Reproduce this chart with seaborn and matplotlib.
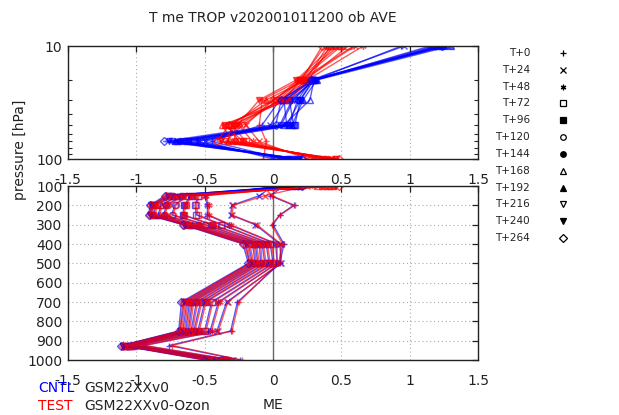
import numpy as np
import pandas as pd
import matplotlib
matplotlib.use("Agg")
import matplotlib.pyplot as plt
from matplotlib.ticker import FixedLocator, NullFormatter, FixedFormatter
import seaborn as sns

sns.set_style("white")
plt.rcParams['font.family'] = ['DejaVu Sans']

levels = [10, 20, 30, 50, 70, 100, 150, 200, 250, 300, 400, 500, 700, 850, 925, 1000]
leads = ["T+0", "T+24", "T+48", "T+72", "T+96", "T+120", "T+144", "T+168",
         "T+192", "T+216", "T+240", "T+264"]

cntl_me = [
    [0.94, 0.30, 0.05, -0.08, -0.45, 0.08, -0.02, 0.15, 0.05, 0.00, 0.08, 0.05, -0.26, -0.31, -0.76, -0.24],
    [0.96, 0.28, 0.10, -0.02, -0.50, 0.00, -0.10, -0.30, -0.31, -0.13, 0.05, 0.06, -0.34, -0.41, -0.95, -0.30],
    [1.15, 0.30, 0.14, 0.05, -0.55, 0.05, -0.50, -0.48, -0.48, -0.32, 0.02, 0.03, -0.40, -0.46, -1.00, -0.34],
    [1.18, 0.29, 0.20, 0.16, -0.58, 0.10, -0.55, -0.57, -0.56, -0.38, -0.02, 0.00, -0.45, -0.50, -1.03, -0.35],
    [1.20, 0.31, 0.12, 0.15, -0.62, 0.12, -0.60, -0.65, -0.66, -0.45, -0.05, -0.03, -0.50, -0.55, -1.05, -0.36],
    [1.22, 0.30, 0.08, 0.10, -0.65, 0.15, -0.64, -0.72, -0.74, -0.50, -0.08, -0.06, -0.53, -0.58, -1.06, -0.37],
    [1.24, 0.28, 0.18, 0.12, -0.68, 0.18, -0.67, -0.78, -0.80, -0.55, -0.10, -0.09, -0.56, -0.60, -1.07, -0.38],
    [1.25, 0.30, 0.27, 0.08, -0.70, 0.16, -0.70, -0.82, -0.84, -0.59, -0.13, -0.11, -0.59, -0.62, -1.08, -0.40],
    [1.30, 0.32, 0.22, 0.14, -0.72, 0.20, -0.73, -0.86, -0.87, -0.62, -0.15, -0.13, -0.61, -0.64, -1.09, -0.42],
    [1.27, 0.29, 0.15, 0.06, -0.74, 0.14, -0.75, -0.88, -0.89, -0.64, -0.18, -0.15, -0.63, -0.66, -1.10, -0.45],
    [1.26, 0.30, 0.20, 0.10, -0.76, 0.19, -0.77, -0.89, -0.90, -0.65, -0.20, -0.17, -0.65, -0.68, -1.10, -0.48],
    [1.24, 0.28, 0.06, 0.02, -0.80, 0.21, -0.79, -0.90, -0.91, -0.66, -0.22, -0.18, -0.67, -0.69, -1.11, -0.50],
]

test_me = [
    [0.59, 0.20, -0.08, -0.10, -0.05, -0.07, -0.01, 0.16, 0.05, -0.01, 0.07, 0.04, -0.25, -0.30, -0.74, -0.23],
    [0.60, 0.22, 0.00, -0.20, -0.10, 0.25, -0.06, -0.29, -0.30, -0.12, 0.06, 0.05, -0.33, -0.40, -0.94, -0.29],
    [0.66, 0.25, 0.05, -0.25, -0.15, 0.30, -0.49, -0.47, -0.47, -0.31, 0.03, 0.03, -0.39, -0.45, -0.99, -0.33],
    [0.55, 0.24, 0.10, -0.30, -0.20, 0.33, -0.54, -0.56, -0.55, -0.37, -0.01, 0.01, -0.44, -0.49, -1.02, -0.34],
    [0.50, 0.20, 0.08, -0.35, -0.22, 0.36, -0.59, -0.64, -0.65, -0.44, -0.04, -0.02, -0.49, -0.54, -1.04, -0.35],
    [0.48, 0.18, 0.02, -0.33, -0.25, 0.38, -0.63, -0.71, -0.73, -0.49, -0.07, -0.05, -0.52, -0.57, -1.05, -0.36],
    [0.45, 0.22, 0.06, -0.28, -0.28, 0.40, -0.66, -0.77, -0.79, -0.54, -0.09, -0.08, -0.55, -0.59, -1.06, -0.37],
    [0.42, 0.26, 0.12, -0.37, -0.30, 0.42, -0.69, -0.81, -0.83, -0.58, -0.12, -0.10, -0.58, -0.61, -1.07, -0.39],
    [0.40, 0.24, -0.05, -0.30, -0.33, 0.44, -0.72, -0.85, -0.86, -0.61, -0.14, -0.12, -0.60, -0.63, -1.08, -0.41],
    [0.38, 0.20, 0.04, -0.22, -0.35, 0.46, -0.74, -0.87, -0.88, -0.63, -0.17, -0.14, -0.62, -0.65, -1.09, -0.44],
    [0.44, 0.17, -0.10, -0.26, -0.38, 0.45, -0.76, -0.88, -0.89, -0.64, -0.19, -0.16, -0.64, -0.67, -1.09, -0.47],
    [0.36, 0.21, 0.00, -0.32, -0.41, 0.48, -0.78, -0.89, -0.90, -0.65, -0.21, -0.17, -0.66, -0.68, -1.10, -0.49],
]

experiments = ["CNTL", "TEST"]
exp_names = ["GSM22XXv0", "GSM22XXv0-Ozon"]
exp_colors = {"CNTL": "#0000ff", "TEST": "#ff0000"}

# marker style per lead time: (marker, filled)
marker_styles = [("+", True), ("x", True), ((6, 2, 0), True), ("s", False), ("s", True),
                 ("o", False), ("o", True), ("^", False), ("^", True), ("v", False),
                 ("v", True), ("D", False)]

rows = []
for exp, table in zip(experiments, [cntl_me, test_me]):
    for lead, vals in zip(leads, table):
        for p, v in zip(levels, vals):
            rows.append({"exp": exp, "lead": lead, "pressure": p, "me": v})
df = pd.DataFrame(rows)

W, H = 619, 415
fig = plt.figure(figsize=(W / 100, H / 100), dpi=100)

def fx(px):
    return px / W

def fy(py):
    return 1 - py / H

ax_top = fig.add_axes([fx(68), fy(159), fx(478) - fx(68), fy(46) - fy(159)])
ax_bot = fig.add_axes([fx(68), fy(360), fx(478) - fx(68), fy(186) - fy(360)])
ax_top.set_zorder(3)
ax_top.patch.set_alpha(0)

grid_kw = dict(color="#aaaaaa", linestyle=(0, (1, 2.5)), linewidth=0.8, zorder=0)

for ax in (ax_top, ax_bot):
    for xv in [-1, -0.5, 0.5, 1]:
        ax.axvline(xv, **grid_kw)
    ax.axvline(0, color="#666666", linewidth=1.0, zorder=1)

for yv in range(200, 1000, 100):
    ax_bot.axhline(yv, **grid_kw)

for ax in (ax_top, ax_bot):
    for i, lead in enumerate(leads):
        mk, filled = marker_styles[i]
        for exp in experiments:
            sub = df[(df.exp == exp) & (df.lead == lead)]
            col = exp_colors[exp]
            kw = dict(marker=mk, markersize=4.5, markeredgewidth=1.0,
                      markeredgecolor=col,
                      markerfacecolor=(col if filled else "none"))
            sns.lineplot(data=sub, x="me", y="pressure", orient="y", sort=False,
                         estimator=None, color=col, linewidth=1.0, alpha=0.65,
                         legend=False, ax=ax, **kw)

# top panel (log, 10-100 hPa)
ax_top.set_yscale("log")
ax_top.set_ylim(100, 10)
ax_top.yaxis.set_major_locator(FixedLocator([10, 100]))
ax_top.yaxis.set_major_formatter(FixedFormatter(["10", "100"]))
ax_top.yaxis.set_minor_locator(FixedLocator([20, 30, 40, 50, 60, 70, 80, 90]))
ax_top.yaxis.set_minor_formatter(NullFormatter())

# bottom panel (linear, 100-1000 hPa)
ax_bot.set_ylim(1000, 100)
ax_bot.set_yticks(list(range(100, 1001, 100)))
ax_bot.set_yticklabels([str(v) for v in range(100, 1001, 100)])

xt = [-1.5, -1, -0.5, 0, 0.5, 1, 1.5]
xtl = ["-1.5", "-1", "-0.5", "0", "0.5", "1", "1.5"]
for ax in (ax_top, ax_bot):
    ax.set_xlim(-1.5, 1.5)
    ax.set_xticks(xt)
    ax.set_xticklabels(xtl)
    ax.set_xlabel("")
    ax.set_ylabel("")
    ax.tick_params(axis="both", which="major", direction="in", length=4.5, width=0.9,
                   top=True, right=True, labelsize=10, colors="#222222",
                   labelcolor="#222222")
    ax.tick_params(axis="x", which="major", pad=10)
    ax.tick_params(axis="y", which="major", pad=4)
    ax.tick_params(axis="y", which="minor", direction="in", length=3, width=0.8,
                   left=True, right=True)
    for s in ax.spines.values():
        s.set_color("#222222")
        s.set_linewidth(1.0)
        s.set_visible(True)

fig.text(fx(273), fy(18), "T me TROP v202001011200 ob AVE", ha="center", va="center",
         fontsize=10, color="#222222")
fig.text(fx(20), fy(150), "pressure [hPa]", rotation=90, ha="center", va="center",
         fontsize=10, color="#222222")
fig.text(fx(273), fy(405), "ME", ha="center", va="center", fontsize=10, color="#222222")
fig.text(fx(38), fy(388), "CNTL", ha="left", va="center", fontsize=10, color="#0000ff")
fig.text(fx(84), fy(388), exp_names[0], ha="left", va="center", fontsize=10, color="#222222")
fig.text(fx(38), fy(406), "TEST", ha="left", va="center", fontsize=10, color="#ff0000")
fig.text(fx(84), fy(406), exp_names[1], ha="left", va="center", fontsize=10, color="#222222")

# key on the right
leg_ax = fig.add_axes([fx(490), fy(255), fx(600) - fx(490), fy(36) - fy(255)])
leg_ax.set_xlim(0, 110)
leg_ax.set_ylim(11.5 + 0.5, -0.5 - 0.5)
leg_ax.axis("off")
for i, lead in enumerate(leads):
    mk, filled = marker_styles[i]
    leg_ax.text(40, i, lead, ha="right", va="center", fontsize=7.5, color="#222222")
    leg_ax.plot([73], [i], marker=mk, markersize=4, markeredgewidth=0.9,
                markeredgecolor="black", markerfacecolor=("black" if filled else "none"),
                linestyle="none")

fig.savefig("out.png", dpi=100)
